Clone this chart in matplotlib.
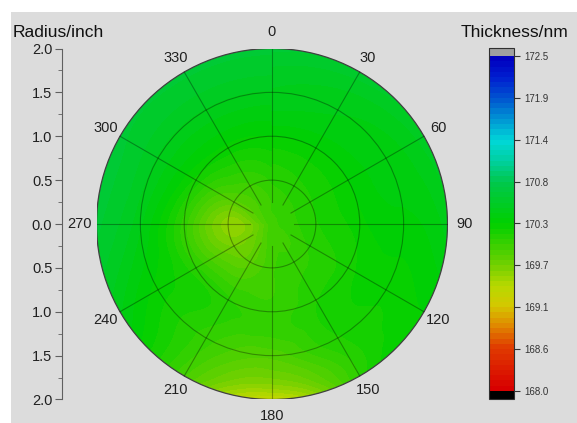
import numpy as np
import matplotlib
matplotlib.use("Agg")
import matplotlib.pyplot as plt
import matplotlib.tri as mtri
from matplotlib.colors import LinearSegmentedColormap
from matplotlib.patches import Circle, Rectangle

plt.rcParams["font.family"] = ["Liberation Sans", "DejaVu Sans"]

# measurement map: thickness (nm) at each site, angle clockwise from top
angles = [0, 30, 60, 90, 120, 150, 180, 210, 240, 270, 300, 330]
radii = [0.5, 1.0, 1.5, 2.0]
center_val = 169.95
ring_05 = [170.05, 170.08, 170.10, 170.10, 170.05, 170.00, 169.95, 169.80, 169.68, 169.58, 169.80, 169.95]
ring_10 = [170.25, 170.25, 170.25, 170.22, 170.15, 170.10, 170.00, 170.05, 170.05, 170.00, 170.15, 170.22]
ring_15 = [170.45, 170.40, 170.35, 170.30, 170.20, 170.10, 169.85, 170.00, 170.22, 170.40, 170.45, 170.45]
ring_20 = [170.62, 170.58, 170.50, 170.42, 170.25, 170.05, 169.30, 169.90, 170.40, 170.62, 170.62, 170.62]

cbar_ticks = [168.0, 168.5625, 169.125, 169.6875, 170.25, 170.8125, 171.375, 171.9375, 172.5]
cbar_labels = ["168.0", "168.6", "169.1", "169.7", "170.3", "170.8", "171.4", "171.9", "172.5"]
r_ticks = [-2.0, -1.5, -1.0, -0.5, 0.0, 0.5, 1.0, 1.5, 2.0]
r_labels = ["2.0", "1.5", "1.0", "0.5", "0.0", "0.5", "1.0", "1.5", "2.0"]

vmin, vmax = 168.0, 172.5

# colormap red -> yellow -> green -> cyan -> blue
stops = [(0.0, "#d80000"), (0.125, "#e03c00"), (0.19, "#e08800"), (0.25, "#d4c800"),
         (0.31, "#b8d800"), (0.375, "#70d000"), (0.5, "#00d000"), (0.625, "#00c84c"),
         (0.69, "#00d0a0"), (0.75, "#00d8d8"), (0.875, "#0058d0"), (0.94, "#0020d0"),
         (1.0, "#0000c0")]
cmap = LinearSegmentedColormap.from_list("thk", stops, N=64)
cmap.set_over("#a0a0a0")
cmap.set_under("black")

# sites on a theta-r grid (seam column repeated at 360)
th = np.radians(angles + [360])
rows = [[center_val] * 12, ring_05, ring_10, ring_15, ring_20]
T, R = np.meshgrid(th, [0.0] + radii)
Z = np.array([row + [row[0]] for row in rows])
tri = mtri.Triangulation(T.ravel(), R.ravel())
interp = mtri.CubicTriInterpolator(tri, Z.ravel(), kind="min_E")

g = np.linspace(-2.0, 2.0, 481)
X, Y = np.meshgrid(g, g)
Rg = np.minimum(np.hypot(X, Y), 1.9999)
Tg = np.clip(np.mod(np.arctan2(X, Y), 2 * np.pi), 1e-9, 2 * np.pi - 1e-9)
Zg = interp(Tg, Rg)

fig = plt.figure(figsize=(5.77, 4.23), dpi=100, facecolor="white")
fig.patches.append(Rectangle((11 / 577, 0), 1, (423 - 12) / 423, transform=fig.transFigure,
                             facecolor="#dcdcdc", edgecolor="none", zorder=-10))

ax = fig.add_axes([96.5 / 577, 23.5 / 423, 351 / 577, 351 / 423])
ax.set_facecolor("none")
levels = np.linspace(vmin, vmax, 65)
cs = ax.contourf(X, Y, Zg, levels=levels, cmap=cmap, vmin=vmin, vmax=vmax, extend="both")
clip = Circle((0, 0), 2.0, transform=ax.transData)
cs.set_clip_path(clip)

# grid
for rr in [0.5, 1.0, 1.5]:
    ax.add_patch(Circle((0, 0), rr, fill=False, ec="black", lw=0.8, alpha=0.33))
ax.add_patch(Circle((0, 0), 2.0, fill=False, ec="#404040", lw=0.9))
for a in angles:
    t = np.radians(a)
    ax.plot([0.25 * np.sin(t), 2.0 * np.sin(t)], [0.25 * np.cos(t), 2.0 * np.cos(t)],
            color="black", lw=0.8, alpha=0.33)
    ax.text(2.19 * np.sin(t), 2.19 * np.cos(t), str(a), ha="center", va="center",
            fontsize=10.5, color="#202020")

ax.set_xlim(-2, 2)
ax.set_ylim(-2, 2)
ax.set_aspect("equal")
for s in ["top", "right", "bottom"]:
    ax.spines[s].set_visible(False)
ax.spines["left"].set_position(("outward", 24.8))
ax.spines["left"].set_color("#606060")
ax.set_xticks([])
ax.set_yticks(r_ticks)
ax.set_yticklabels(r_labels)
ax.set_yticks(np.arange(-1.75, 2.0, 0.5), minor=True)
ax.tick_params(axis="y", which="major", length=5, color="#606060", labelsize=10.5,
               labelcolor="#202020", pad=2)
ax.tick_params(axis="y", which="minor", length=3, color="#606060")

cax = fig.add_axes([489 / 577, 24 / 423, 25 / 577, 351 / 423])
cb = fig.colorbar(cs, cax=cax, extend="both", extendrect=True, extendfrac=0.024)
cb.set_ticks(cbar_ticks)
cb.set_ticklabels(cbar_labels)
cb.ax.tick_params(labelsize=7, length=4, color="#333333", labelcolor="#333333")
cb.outline.set_edgecolor("#303030")
cb.outline.set_linewidth(0.8)

fig.text(13 / 577, 1 - 37 / 423, "Radius/inch", fontsize=12.5, va="baseline", color="#111111")
fig.text(568 / 577, 1 - 37 / 423, "Thickness/nm", fontsize=12.5, va="baseline", ha="right",
         color="#111111")

fig.savefig("out.png", dpi=100, facecolor=fig.get_facecolor())
